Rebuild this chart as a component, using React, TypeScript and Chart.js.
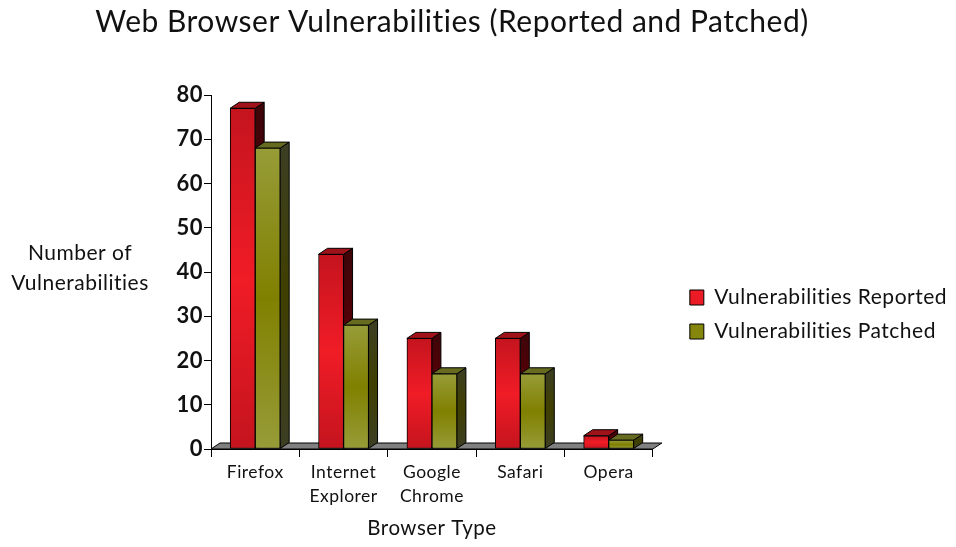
import React, { useEffect, useRef } from "react";
import { Chart, registerables } from "chart.js";

Chart.register(...registerables);

const categories = [["Firefox"], ["Internet", "Explorer"], ["Google", "Chrome"], ["Safari"], ["Opera"]];
const reported = [77, 44, 25, 25, 3];
const patched = [68, 28, 17, 17, 2];
const FONT = "Lato";
const TEXT = "#111";
const DX = 9;
const DY = 6;

const RED = ["#c4141e", "#f01c26"];
const OLIVE = ["#979c38", "#808000"];
const TOPS = ["#a01219", "#666b20"];
const SIDES = [["#3d0509", "#5a0006"], ["#3c3e24", "#404000"]];

function vGradient(ctx: any, top: number, bottom: number, stops: string[]) {
  const g = ctx.createLinearGradient(0, top, 0, bottom);
  g.addColorStop(0, stops[0]);
  g.addColorStop(0.5, stops[1]);
  g.addColorStop(1, stops[0]);
  return g;
}

const threeD = {
  id: "threeD",
  beforeUpdate(chart: any) {
    chart.ctx.letterSpacing = "0.5px";
  },
  afterLayout(chart: any) {
    chart.titleBlock.left -= 96.5;
    chart.titleBlock.right -= 96.5;
    const lg = chart.legend;
    lg.top += 39;
    lg.bottom += 39;
    lg.left = chart.chartArea.right + 24;
    lg.right = chart.width;
  },
  beforeDatasetsDraw(chart: any) {
    const { ctx, chartArea: a } = chart;
    const poly = (pts: number[][], fill: any) => {
      ctx.beginPath();
      pts.forEach((p, i) => (i ? ctx.lineTo(p[0], p[1]) : ctx.moveTo(p[0], p[1])));
      ctx.closePath();
      ctx.fillStyle = fill;
      ctx.fill();
      ctx.strokeStyle = "#000";
      ctx.lineWidth = 1;
      ctx.stroke();
    };
    ctx.save();
    const y0 = chart.scales.y.getPixelForValue(0);
    poly([[a.left, y0], [a.left + DX, y0 - DY], [a.right + DX, y0 - DY], [a.right, y0]], "#808080");
    chart.data.datasets.forEach((_: any, d: number) => {
      chart.getDatasetMeta(d).data.forEach((el: any) => {
        const l = el.x - el.width / 2;
        const r = el.x + el.width / 2;
        poly([[r, el.y], [r + DX, el.y - DY], [r + DX, el.base - DY], [r, el.base]], vGradient(ctx, el.y - DY, el.base, SIDES[d]));
        poly([[l, el.y], [l + DX, el.y - DY], [r + DX, el.y - DY], [r, el.y]], TOPS[d]);
      });
    });
    ctx.restore();
  },
  afterDraw(chart: any) {
    const { ctx } = chart;
    ctx.save();
    ctx.font = `21px ${FONT}`;
    ctx.fillStyle = TEXT;
    ctx.textAlign = "center";
    ctx.textBaseline = "middle";
    ctx.fillText("Number of", 80, 253);
    ctx.fillText("Vulnerabilities", 80, 283);
    ctx.restore();
  },
};

export default function App() {
  const ref = useRef<HTMLCanvasElement>(null);
  useEffect(() => {
    const scripted = (stops: string[]) => (c: any) => {
      const s = c.chart.scales.y;
      if (c.dataIndex === undefined || !s || !Number.isFinite(c.raw)) return stops[1];
      const top = s.getPixelForValue(c.raw);
      const bottom = s.getPixelForValue(0);
      if (!Number.isFinite(top) || !Number.isFinite(bottom)) return stops[1];
      return vGradient(c.chart.ctx, top, bottom, stops);
    };
    const chart = new Chart(ref.current!, {
      type: "bar",
      data: {
        labels: categories as any,
        datasets: [
          { label: "Vulnerabilities Reported", data: reported, backgroundColor: scripted(RED) as any, borderColor: "#000", borderWidth: 1, borderSkipped: false, barThickness: 25 },
          { label: "Vulnerabilities Patched", data: patched, backgroundColor: scripted(OLIVE) as any, borderColor: "#000", borderWidth: 1, borderSkipped: false, barThickness: 25 },
        ],
      },
      plugins: [threeD],
      options: {
        animation: false,
        responsive: false,
        layout: { padding: { left: 164, right: 23, top: 4, bottom: 0 } },
        plugins: {
          tooltip: { enabled: false },
          title: { display: true, text: "Web Browser Vulnerabilities (Reported and Patched)", font: { family: FONT, size: 30, weight: "normal" }, color: TEXT, padding: { top: 0, bottom: 55 } },
          legend: {
            position: "right",
            maxWidth: 400,
            labels: { boxWidth: 14, boxHeight: 15, padding: 13, color: TEXT, font: { family: FONT, size: 21 } },
          },
        },
        scales: {
          x: {
            afterFit: (s: any) => { s.height = 98; },
            grid: { drawOnChartArea: false, color: "#000", tickLength: 8, tickColor: "#000" },
            border: { color: "#000" },
            ticks: { color: TEXT, font: { family: FONT, size: 17.5, lineHeight: 1.4 }, maxRotation: 0, autoSkip: false, padding: 3 },
            title: { display: true, text: "Browser Type", color: TEXT, font: { family: FONT, size: 20.5 }, padding: { top: 6, bottom: 6 } },
          },
          y: {
            afterFit: (s: any) => { s.width = 47; },
            min: 0,
            max: 80,
            grid: { drawOnChartArea: false, color: "#000", tickLength: 7, tickColor: "#000" },
            border: { color: "#000" },
            ticks: { stepSize: 10, color: TEXT, font: { family: FONT, size: 22, weight: "bold" }, padding: 1 },
          },
        },
      },
    });
    return () => chart.destroy();
  }, []);
  return <canvas ref={ref} width={956} height={547} style={{ position: "fixed", left: 0, top: 0, width: 956, height: 547, background: "#fff" }} />;
}
